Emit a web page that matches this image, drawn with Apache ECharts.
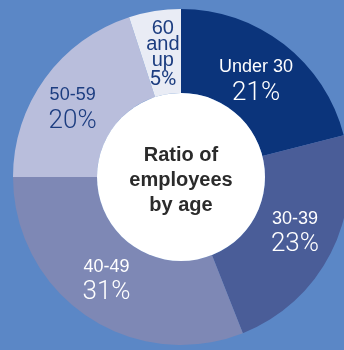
<!DOCTYPE html>
<html>
<head>
<meta charset="utf-8">
<script src="https://cdn.jsdelivr.net/npm/echarts@6/dist/echarts.min.js"></script>
<style>
  html, body { margin: 0; padding: 0; background: #5b87c6; }
  #chart { width: 344px; height: 350px; }
</style>
</head>
<body>
<div id="chart"></div>
<script>
  const categories = ["Under 30", "30-39", "40-49", "50-59", "60 and up"];
  const shares = [21, 23, 31, 20, 5];
  const sliceColors = ["#0b347b", "#4a5d98", "#7e88b5", "#b9bedc", "#e9ecf5"];
  const labelColors = ["#ffffff", "#ffffff", "#ffffff", "#1c3d80", "#1c3d80"];
  const centerTitle = "Ratio of\nemployees\nby age";

  // small nudges so labels sit where the original placed them
  const labelNudge = [[-4, 6], [-1, -3], [-2, -3], [-4, 8], [2, 6]];
  const font = "'Liberation Sans', Arial, sans-serif";

  const chart = echarts.init(document.getElementById("chart"), null, { renderer: "canvas" });

  const data = categories.map((name, i) => {
    const narrow = shares[i] < 10;
    const c = labelColors[i];
    return {
      name,
      value: shares[i],
      itemStyle: { color: sliceColors[i] },
      label: {
        color: c,
        fontSize: 18,
        fontFamily: font,
        offset: labelNudge[i],
        formatter: narrow
          ? name.split(" ").map(t => `{s|${t}}`).join("\n") + `\n{q|${shares[i]}%}`
          : `{n|${name}}\n{p|${shares[i]}%}`,
        rich: {
          n: { fontSize: 18, fontFamily: font, color: c, lineHeight: 24 },
          p: { fontSize: 26, fontFamily: "Roboto, " + font, fontWeight: 300, color: c, lineHeight: 28 },
          s: { fontSize: 20, fontFamily: font, color: c, lineHeight: 16 },
          q: { fontSize: 21, fontFamily: "Roboto, " + font, fontWeight: 400, color: c, lineHeight: 22 }
        }
      }
    };
  });

  chart.setOption({
    backgroundColor: "#5b87c6",
    animation: false,
    series: [
      {
        type: "pie",
        center: [181, 177],
        radius: [84, 168],
        startAngle: 90,
        clockwise: true,
        silent: true,
        label: { show: true, position: "inside" },
        labelLine: { show: false },
        itemStyle: { borderWidth: 0 },
        data
      },
      {
        type: "pie",
        center: [181, 177],
        radius: [0, 84],
        silent: true,
        label: {
          show: true,
          position: "center",
          formatter: centerTitle,
          fontSize: 20,
          fontWeight: "bold",
          fontFamily: font,
          color: "#2b2b2b",
          lineHeight: 25,
          offset: [0, 3]
        },
        labelLine: { show: false },
        data: [{ value: 1, name: "center", itemStyle: { color: "#ffffff" } }]
      }
    ]
  });
</script>
</body>
</html>
